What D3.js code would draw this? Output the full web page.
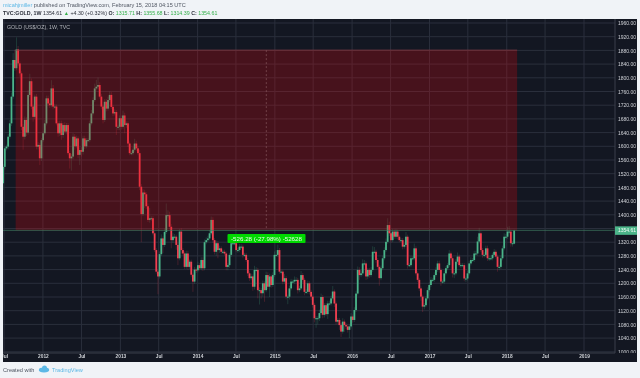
<!DOCTYPE html>
<html>
<head>
<meta charset="utf-8">
<script src="https://cdnjs.cloudflare.com/ajax/libs/d3/7.8.5/d3.min.js"></script>
<style>
  html, body { margin: 0; padding: 0; background: #f0f3f7; }
  svg { display: block; font-family: "Liberation Sans", sans-serif; filter: blur(0.25px); }
  .domain { display: none; }
  .tick line { display: none; }
</style>
</head>
<body>
<svg id="chart"></svg>
<script>
const opens = [
  1492,1540,1594,1599,1628,1667,1745,1852,1828,1883,
  1842,1813,1657,1628,1677,1640,1750,1790,1716,1686,
  1745,1599,1604,1565,1618,1638,1667,1740,1725,1720,
  1769,1716,1716,1667,1638,1667,1633,1662,1643,1662,
  1580,1565,1570,1628,1600,1623,1575,1589,1584,1623,
  1600,1618,1618,1667,1696,1735,1769,1774,1779,1745,
  1716,1677,1730,1710,1735,1750,1715,1696,1700,1657,
  1657,1682,1657,1690,1662,1667,1608,1580,1580,1590,
  1608,1594,1580,1482,1402,1465,1460,1425,1385,1390,
  1390,1346,1297,1234,1220,1285,1331,1312,1350,1399,
  1399,1365,1326,1336,1336,1312,1273,1351,1297,1287,
  1248,1287,1248,1263,1225,1205,1240,1238,1253,1244,
  1268,1244,1320,1326,1331,1346,1385,1326,1292,1317,
  1297,1302,1292,1292,1287,1248,1253,1283,1317,1317,
  1317,1297,1297,1307,1307,1283,1283,1268,1229,1215,
  1220,1190,1239,1239,1180,1180,1171,1200,1180,1224,
  1190,1220,1195,1224,1283,1283,1297,1234,1234,1205,
  1215,1161,1161,1185,1205,1205,1210,1210,1180,1185,
  1224,1210,1175,1175,1200,1175,1161,1137,1098,1098,
  1098,1113,1160,1108,1136,1110,1141,1141,1156,1176,
  1141,1088,1093,1078,1059,1088,1078,1074,1064,1074,
  1103,1093,1122,1170,1239,1224,1229,1258,1258,1220,
  1239,1224,1239,1292,1292,1268,1248,1215,1244,1273,
  1297,1321,1370,1346,1326,1351,1336,1351,1336,1326,
  1326,1307,1312,1336,1253,1253,1273,1273,1302,1229,
  1210,1185,1161,1132,1136,1156,1180,1195,1210,1210,
  1224,1239,1258,1239,1205,1205,1229,1244,1253,1287,
  1273,1229,1229,1263,1278,1253,1253,1253,1214,1214,
  1229,1258,1268,1268,1287,1287,1322,1346,1297,1283,
  1283,1302,1273,1273,1273,1283,1292,1278,1248,1248,
  1273,1302,1336,1336,1351,1351,1317,1315.71
]
const closes = [
  1540,1594,1599,1628,1667,1745,1852,1828,1883,1842,
  1813,1657,1628,1677,1640,1750,1790,1716,1686,1745,
  1599,1604,1565,1618,1638,1667,1740,1725,1720,1769,
  1716,1716,1667,1638,1667,1633,1662,1643,1662,1580,
  1565,1570,1628,1600,1623,1575,1589,1584,1623,1600,
  1618,1618,1667,1696,1735,1769,1774,1779,1745,1716,
  1677,1730,1710,1735,1750,1715,1696,1700,1657,1657,
  1682,1657,1690,1662,1667,1608,1580,1580,1590,1608,
  1594,1580,1482,1402,1465,1460,1425,1385,1390,1390,
  1346,1297,1234,1220,1285,1331,1312,1350,1399,1399,
  1365,1326,1336,1336,1312,1273,1351,1297,1287,1248,
  1287,1248,1263,1225,1205,1240,1238,1253,1244,1268,
  1244,1320,1326,1331,1346,1385,1326,1292,1317,1297,
  1302,1292,1292,1287,1248,1253,1283,1317,1317,1317,
  1297,1297,1307,1307,1283,1283,1268,1229,1215,1220,
  1190,1239,1239,1180,1180,1171,1200,1180,1224,1190,
  1220,1195,1224,1283,1283,1297,1234,1234,1205,1215,
  1161,1161,1185,1205,1205,1210,1210,1180,1185,1224,
  1210,1175,1175,1200,1175,1161,1137,1098,1098,1098,
  1113,1160,1108,1136,1110,1141,1141,1156,1176,1141,
  1088,1093,1078,1059,1088,1078,1074,1064,1074,1103,
  1093,1122,1170,1239,1224,1229,1258,1258,1220,1239,
  1224,1239,1292,1292,1268,1248,1215,1244,1273,1297,
  1321,1370,1346,1326,1351,1336,1351,1336,1326,1326,
  1307,1312,1336,1253,1253,1273,1273,1302,1229,1210,
  1185,1161,1132,1136,1156,1180,1195,1210,1210,1224,
  1239,1258,1239,1205,1205,1229,1244,1253,1287,1273,
  1229,1229,1263,1278,1253,1253,1253,1214,1214,1229,
  1258,1268,1268,1287,1287,1322,1346,1297,1283,1283,
  1302,1273,1273,1273,1283,1292,1278,1248,1248,1273,
  1302,1336,1336,1351,1351,1317,1317,1354.61
]
// wick lengths past the body, in dollars
const upperWicks = [
  8,6,6,8,10,12,20,30,35,10,
  6,6,8,10,8,14,22,8,6,6,
  8,8,6,6,6,10,8,8,10,24,
  10,8,6,6,8,8,6,8,6,6,
  6,8,10,8,8,6,8,8,8,8,
  6,6,8,10,8,14,20,22,8,8,
  6,8,8,10,10,8,6,8,6,6,
  8,8,14,8,6,6,6,6,8,14,
  8,6,10,8,10,8,6,8,30,6,
  6,6,6,6,8,12,6,10,34,14,
  10,8,10,8,6,6,8,10,6,6,
  8,8,6,6,6,8,6,10,6,8,
  8,8,8,8,10,10,8,6,8,6,
  8,6,6,6,6,6,6,8,10,6,
  6,6,8,8,6,6,6,6,6,8,
  6,12,8,6,8,6,8,6,10,8,
  8,6,8,10,14,16,6,6,6,12,
  6,6,8,8,6,10,8,6,8,12,
  6,6,8,8,6,6,6,6,6,6,
  10,10,6,6,6,8,8,8,16,6,
  6,6,6,6,10,6,6,6,6,10,
  6,8,8,10,8,8,12,10,6,6,
  6,8,16,14,6,6,6,8,8,8,
  10,20,10,6,8,6,8,6,6,6,
  6,6,14,6,6,8,6,14,6,6,
  6,6,6,6,6,8,8,8,6,8,
  8,8,8,6,6,8,6,6,10,6,
  6,6,8,12,6,6,6,6,6,8,
  8,8,6,8,8,14,16,6,6,8,
  8,8,6,6,6,8,6,6,6,8,
  8,10,8,14,16,6,6,2
]
const lowerWicks = [
  20,8,6,8,6,8,6,8,6,8,
  10,10,38,8,10,6,6,8,14,6,
  8,8,20,8,6,6,6,8,8,6,
  8,6,6,10,8,14,8,6,8,6,
  30,36,8,10,6,10,30,14,8,8,
  6,6,6,6,6,6,6,8,6,8,
  10,6,8,6,6,6,8,6,24,10,
  10,8,6,24,8,10,6,6,6,6,
  8,6,10,82,6,40,8,6,8,8,
  6,6,6,52,6,6,24,6,6,8,
  8,24,8,6,14,20,6,10,6,6,
  6,8,6,6,30,6,8,6,6,6,
  8,6,6,6,6,6,8,8,12,24,
  8,6,6,6,10,10,8,6,6,6,
  6,8,6,6,8,6,6,8,8,6,
  12,8,6,24,42,16,10,34,6,8,
  30,8,6,6,6,6,6,8,8,6,
  8,22,8,6,6,6,6,10,6,6,
  8,10,6,6,8,10,8,12,28,18,
  8,6,10,8,6,14,6,6,6,10,
  8,6,14,16,6,20,8,8,24,6,
  8,6,6,6,14,6,6,6,10,8,
  8,6,6,6,8,6,22,6,6,6,
  6,6,8,8,6,6,6,8,6,6,
  8,6,6,10,6,6,6,6,6,6,
  8,12,16,8,6,6,6,6,6,6,
  6,6,8,12,6,6,6,6,6,6,
  12,14,6,6,6,8,6,8,10,6,
  6,6,6,6,6,6,6,6,8,8,
  6,8,8,6,6,6,6,14,10,6,
  6,6,6,6,8,10,10,2
]

const priceTicks = d3.range(1000, 2000, 40)
const timeTicks = [
  ['2011-07-01', 'Jul'], ['2012-01-01', '2012'], ['2012-07-01', 'Jul'],
  ['2013-01-01', '2013'], ['2013-07-01', 'Jul'], ['2014-01-01', '2014'],
  ['2014-07-01', 'Jul'], ['2015-01-01', '2015'], ['2015-07-01', 'Jul'],
  ['2016-01-01', '2016'], ['2016-07-01', 'Jul'], ['2017-01-01', '2017'],
  ['2017-07-01', 'Jul'], ['2018-01-01', '2018'], ['2018-07-01', 'Jul'],
  ['2019-01-01', '2019'],
]
const lastPrice = 1354.61
const rangeChange = 526.28
const firstBar = '2011-06-27', lastBar = '2018-02-05'
const boxStart = '2011-08-25', boxEnd = '2018-02-19'

const W = 640, H = 378
const pane = {left: 3, right: 615, top: 19, bottom: 353, outer: 637, end: 362}
const parse = d3.utcParse('%Y-%m-%d')

const svg = d3.select('#chart').attr('width', W).attr('height', H)

const x = d3.scaleUtc().domain([parse('2011-07-01'), parse('2019-01-01')]).range([4, 584])
const y = d3.scaleLinear().domain([1960, 1000]).range([23, 351.8])
const bar = d3.scaleLinear().domain([0, closes.length - 1])
  .range([x(parse(firstBar)), x(parse(lastBar))])

const UP = '#4bb58a', DOWN = '#f23f50'

svg.append('rect').attr('width', W).attr('height', H).attr('fill', '#f0f3f7')
svg.append('rect')
  .attr('x', pane.left).attr('y', pane.top)
  .attr('width', pane.outer - pane.left).attr('height', pane.end - pane.top)
  .attr('fill', '#131722')

const defs = svg.append('defs')
defs.append('clipPath').attr('id', 'clip-plot').append('rect')
  .attr('x', pane.left).attr('y', pane.top)
  .attr('width', pane.right - pane.left).attr('height', pane.bottom - pane.top)
defs.append('clipPath').attr('id', 'clip-time').append('rect')
  .attr('x', pane.left).attr('y', pane.bottom)
  .attr('width', pane.right - pane.left).attr('height', pane.end - pane.bottom)
defs.append('clipPath').attr('id', 'clip-price').append('rect')
  .attr('x', pane.right).attr('y', pane.top)
  .attr('width', pane.outer - pane.right).attr('height', pane.bottom - pane.top)

const plot = svg.append('g').attr('clip-path', 'url(#clip-plot)')

// grid
plot.append('g').selectAll('line').data(priceTicks).enter().append('line')
  .attr('x1', pane.left).attr('x2', pane.right)
  .attr('y1', d => y(d)).attr('y2', d => y(d))
  .attr('stroke', '#2a2f3c')
plot.append('g').selectAll('line').data(timeTicks).enter().append('line')
  .attr('x1', d => x(parse(d[0]))).attr('x2', d => x(parse(d[0])))
  .attr('y1', pane.top).attr('y2', pane.bottom)
  .attr('stroke', '#2a2f3c')

// candles
const candles = plot.append('g').selectAll('g').data(closes).enter().append('g')
candles.append('line')
  .attr('x1', (d, i) => bar(i)).attr('x2', (d, i) => bar(i))
  .attr('y1', (d, i) => y(Math.max(opens[i], d) + upperWicks[i]))
  .attr('y2', (d, i) => y(Math.min(opens[i], d) - lowerWicks[i]))
  .attr('stroke', (d, i) => d >= opens[i] ? UP : DOWN)
  .attr('stroke-width', 1)
  .attr('stroke-opacity', 0.22)
candles.append('rect')
  .attr('x', (d, i) => bar(i) - 0.9)
  .attr('width', 1.8)
  .attr('y', (d, i) => y(Math.max(opens[i], d)))
  .attr('height', (d, i) => Math.max(1, Math.abs(y(opens[i]) - y(d))))
  .attr('fill', (d, i) => d >= opens[i] ? UP : DOWN)

// price range box goes over the candles
const boxX0 = x(parse(boxStart)), boxX1 = x(parse(boxEnd))
plot.append('rect')
  .attr('x', boxX0).attr('width', boxX1 - boxX0)
  .attr('y', y(lastPrice + rangeChange))
  .attr('height', y(lastPrice) - y(lastPrice + rangeChange))
  .attr('fill', 'rgb(227,3,10)').attr('fill-opacity', 0.25)
plot.append('line')
  .attr('x1', boxX0).attr('x2', boxX1)
  .attr('y1', y(lastPrice + rangeChange)).attr('y2', y(lastPrice + rangeChange))
  .attr('stroke', '#7a3a42').attr('stroke-width', 0.8)
plot.append('line')
  .attr('x1', 266.3).attr('x2', 266.3)
  .attr('y1', y(lastPrice + rangeChange)).attr('y2', y(lastPrice))
  .attr('stroke', '#84545a').attr('stroke-dasharray', '2,2').attr('stroke-width', 0.7)

// last price line
plot.append('line')
  .attr('x1', pane.left).attr('x2', pane.right)
  .attr('y1', y(lastPrice)).attr('y2', y(lastPrice))
  .attr('stroke', '#3f7a60').attr('stroke-width', 0.7)

// range label
svg.append('rect')
  .attr('x', 227.5).attr('y', 234).attr('width', 78).attr('height', 9).attr('rx', 1)
  .attr('fill', '#00d800')
svg.append('text')
  .attr('x', 266.5).attr('y', 240.8).attr('text-anchor', 'middle')
  .attr('font-size', 6.2).attr('fill', '#eafbe8')
  .text('-526.28 (-27.98%) -52628')

// pane separators
svg.append('line').attr('x1', pane.right).attr('x2', pane.right)
  .attr('y1', pane.top).attr('y2', pane.bottom).attr('stroke', '#3a3f4b')
svg.append('line').attr('x1', pane.left).attr('x2', pane.right)
  .attr('y1', pane.bottom).attr('y2', pane.bottom).attr('stroke', '#3a3f4b')

// axes, the 1360 label sits under the last price tag so it is left out
const yAxis = d3.axisRight(y)
  .tickValues(priceTicks.filter(d => d !== 1360))
  .tickFormat(d3.format('.2f'))
  .tickSize(0).tickPadding(3)
svg.append('g')
  .attr('clip-path', 'url(#clip-price)')
  .append('g')
  .attr('transform', `translate(${pane.right},0)`)
  .call(yAxis)
  .call(g => g.selectAll('text')
    .attr('font-size', 5).attr('fill', '#d0d3d8').attr('font-family', '"Liberation Sans", sans-serif'))

const xAxis = d3.axisBottom(x)
  .tickValues(timeTicks.map(d => parse(d[0])))
  .tickFormat((d, i) => timeTicks[i][1])
  .tickSize(0).tickPadding(2)
svg.append('g')
  .attr('clip-path', 'url(#clip-time)')
  .append('g')
  .attr('transform', `translate(0,${pane.bottom})`)
  .call(xAxis)
  .call(g => g.selectAll('text')
    .attr('font-size', 4.8).attr('font-weight', 'bold').attr('fill', '#d0d3d8')
    .attr('font-family', '"Liberation Sans", sans-serif'))

// last price tag
svg.append('rect')
  .attr('x', pane.right).attr('y', y(lastPrice) - 4).attr('width', pane.outer - pane.right).attr('height', 8.5)
  .attr('fill', '#4bb58a')
svg.append('text')
  .attr('x', pane.right + 3).attr('y', y(lastPrice) + 2)
  .attr('font-size', 5).attr('fill', '#f2fbf6')
  .text(d3.format('.2f')(lastPrice))

// pane legend
svg.append('text')
  .attr('x', 7).attr('y', 28.6)
  .attr('font-size', 5.3).attr('fill', '#b4b7bd')
  .text('GOLD (US$/OZ), 1W, TVC')

// header
const line1 = svg.append('text').attr('x', 3).attr('y', 7.2).attr('font-size', 5.55).attr('fill', '#4e5561')
line1.append('tspan').attr('fill', '#5cb8e6').text('micahjmiller')
line1.append('tspan').text(' published on TradingView.com, February 15, 2018 04:15 UTC')

const HI = '#34b04a'
const line2 = svg.append('text').attr('x', 3).attr('y', 15).attr('font-size', 5.3).attr('fill', '#2a2e39')
line2.append('tspan').attr('font-weight', 'bold').text('TVC:GOLD, 1W')
line2.append('tspan').text('  1354.61 ')
line2.append('tspan').attr('fill', HI).text('▲')
line2.append('tspan').text(' +4.30 (+0.32%) ')
const ohlc = [['O:', '1315.71'], ['H:', '1355.68'], ['L:', '1314.39'], ['C:', '1354.61']]
ohlc.forEach(d => {
  line2.append('tspan').attr('font-weight', 'bold').text(d[0] + ' ')
  line2.append('tspan').attr('fill', HI).text(d[1] + ' ')
})

// footer
svg.append('text').attr('x', 3).attr('y', 372).attr('font-size', 5.6).attr('fill', '#4e5561').text('Created with')
const logo = svg.append('g').attr('fill', '#5cb8e6')
logo.append('ellipse').attr('cx', 44).attr('cy', 370).attr('rx', 5.2).attr('ry', 2.4)
logo.append('circle').attr('cx', 44.5).attr('cy', 368).attr('r', 2.5)
svg.append('text').attr('x', 52).attr('y', 372).attr('font-size', 5.6).attr('fill', '#5cb8e6').text('TradingView')
</script>
</body>
</html>
